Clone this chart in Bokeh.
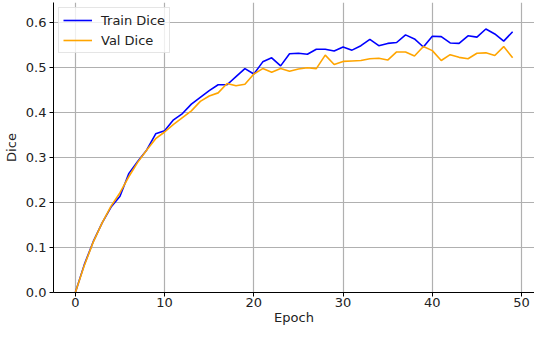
from bokeh.plotting import figure
from bokeh.models import Range1d, Legend, LegendItem, FixedTicker
from bokeh.embed import file_html
from bokeh.resources import INLINE

epochs = list(range(50))
train_dice = [0.0, 0.062, 0.113, 0.155, 0.19, 0.214, 0.265, 0.292, 0.317, 0.353,
              0.360, 0.384, 0.398, 0.419, 0.434, 0.449, 0.462, 0.462, 0.480, 0.498,
              0.486, 0.513, 0.522, 0.504, 0.531, 0.532, 0.530, 0.541, 0.541, 0.537,
              0.546, 0.539, 0.549, 0.563, 0.549, 0.554, 0.556, 0.573, 0.564, 0.546,
              0.570, 0.569, 0.555, 0.554, 0.571, 0.568, 0.586, 0.575, 0.559, 0.580]
val_dice = [0.0, 0.060, 0.112, 0.155, 0.192, 0.222, 0.258, 0.290, 0.317, 0.342,
            0.357, 0.374, 0.389, 0.404, 0.425, 0.437, 0.444, 0.465, 0.460, 0.463,
            0.486, 0.498, 0.490, 0.498, 0.492, 0.497, 0.500, 0.498, 0.528, 0.507,
            0.514, 0.515, 0.516, 0.520, 0.521, 0.517, 0.535, 0.535, 0.526, 0.547,
            0.538, 0.516, 0.529, 0.523, 0.520, 0.532, 0.533, 0.527, 0.547, 0.522]
x_ticks = [0, 10, 20, 30, 40, 50]
y_ticks = [0.0, 0.1, 0.2, 0.3, 0.4, 0.5, 0.6]

FONT = "DejaVu Sans"
p = figure(width=534, height=327, output_backend="svg", toolbar_location=None,
           x_range=Range1d(-2.45, 51.45), y_range=Range1d(0, 0.645),
           min_border_left=45, min_border_right=0, min_border_top=2, min_border_bottom=30)
p.outline_line_color = None

r1 = p.line(epochs, train_dice, line_color="blue", line_width=1.6)
r2 = p.line(epochs, val_dice, line_color="orange", line_width=1.6)

for ax in (p.xaxis[0], p.yaxis[0]):
    ax.major_tick_out = 4
    ax.major_tick_in = 0
    ax.minor_tick_line_color = None
    ax.axis_line_color = "black"
    ax.major_tick_line_color = "black"
    ax.major_label_text_font = FONT
    ax.major_label_text_font_size = "13px"
    ax.major_label_text_color = "#222222"
    ax.axis_label_text_font = FONT
    ax.axis_label_text_font_size = "13px"
    ax.axis_label_text_font_style = "normal"
    ax.axis_label_text_color = "#222222"
    ax.major_label_standoff = 3
    ax.axis_label_standoff = 4

p.xaxis[0].major_label_standoff = 1
p.xaxis[0].axis_label_standoff = 0
p.xaxis[0].major_label_text_line_height = 1.0
p.xaxis[0].axis_label_text_line_height = 1.0

p.xaxis[0].ticker = FixedTicker(ticks=x_ticks)
p.yaxis[0].ticker = FixedTicker(ticks=y_ticks)
p.yaxis[0].major_label_overrides = {v: f"{v:.1f}" for v in y_ticks}
p.xaxis.axis_label = "Epoch"
p.yaxis.axis_label = "Dice"

p.xgrid.ticker = FixedTicker(ticks=x_ticks)
p.ygrid.ticker = FixedTicker(ticks=y_ticks)
for g in (p.xgrid[0], p.ygrid[0]):
    g.grid_line_color = "#b0b0b0"
    g.grid_line_width = 1.2

legend = Legend(items=[LegendItem(label="Train Dice", renderers=[r1]),
                       LegendItem(label="Val Dice", renderers=[r2])],
                location="top_left")
legend.label_text_font = FONT
legend.label_text_font_size = "13px"
legend.label_text_color = "#222222"
legend.border_line_color = "#cccccc"
legend.border_line_width = 1
legend.background_fill_alpha = 0.8
legend.margin = 5
legend.padding = 4
legend.spacing = 4
legend.glyph_width = 29
legend.glyph_height = 16
legend.label_standoff = 9
legend.label_height = 16
p.add_layout(legend)

open("out.html", "w").write(file_html(p, INLINE))
